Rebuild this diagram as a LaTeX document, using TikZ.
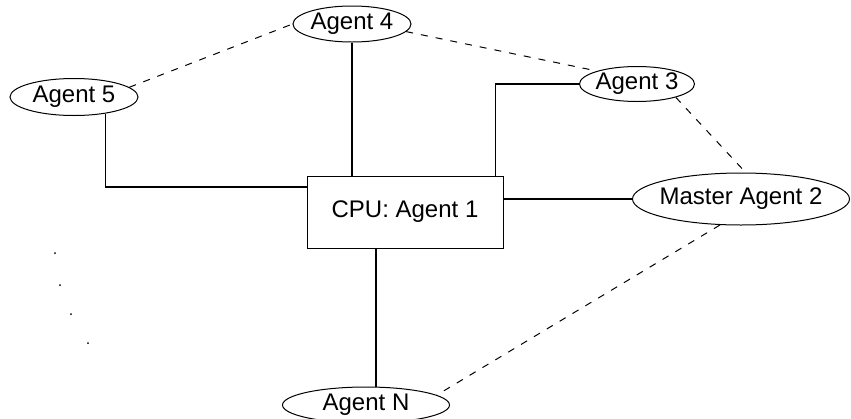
\documentclass[tikz,border=0pt]{standalone}
\usepackage{fontspec}
\setmainfont{Liberation Sans}
\usetikzlibrary{shapes.geometric}

\tikzset{
  agent/.style={ellipse, draw, inner xsep=-30pt, inner ysep=0pt,
    font=\fontsize{24}{28}\selectfont},
  cpubox/.style={rectangle, draw, minimum width=196pt, minimum height=72pt,
    font=\fontsize{24}{28}\selectfont},
  link/.style={line width=1.2pt},
  weak/.style={line width=1pt, dash pattern=on 7pt off 8pt}
}

\begin{document}
\begin{tikzpicture}[x=1pt, y=-1pt, line width=1pt]
\useasboundingbox (0,0) rectangle (851,418);
\clip (0,0) rectangle (851,418);

\node[cpubox] (cpu) at (405,212) {CPU: Agent 1};
\node[agent, minimum width=118pt, minimum height=36pt] (a4) at (352,24) {Agent 4};
\node[agent, minimum width=128pt, minimum height=37pt] (a5) at (74,97) {Agent 5};
\node[agent, minimum width=115pt, minimum height=35pt] (a3) at (637,84) {Agent 3};
\node[agent, minimum width=217pt, minimum height=52pt] (m2) at (741,199) {Master Agent 2};
\node[agent, minimum width=167pt, minimum height=36pt] (an) at (366,405) {Agent N};

% solid links to the CPU
\draw[link] ([yshift=25pt]cpu.west) -| (a5.-28);
\draw[link] (a4.south) -- (a4.south |- cpu.north);
\draw[link] (a3.west) -| ([xshift=-8pt]cpu.north east);
\draw[link] (m2.west) -- (m2.west -| cpu.east);
\draw[link] ([xshift=-29pt]cpu.south) -- ([xshift=-29pt]cpu.south |- an.north);

% dashed links between agents
\draw[weak] (a5.10) -- (a4.west);
\draw[weak] (a4.-8) -- (a3.162);
\draw[weak] (a3.-19) -- (m2.80);
\draw[weak] (m2.-129) -- (an.8);

% dots for the agents left out
\foreach \p in {(55,253), (60,285), (71,314), (88,343)}
  \fill \p circle (1pt);
\end{tikzpicture}
\end{document}
